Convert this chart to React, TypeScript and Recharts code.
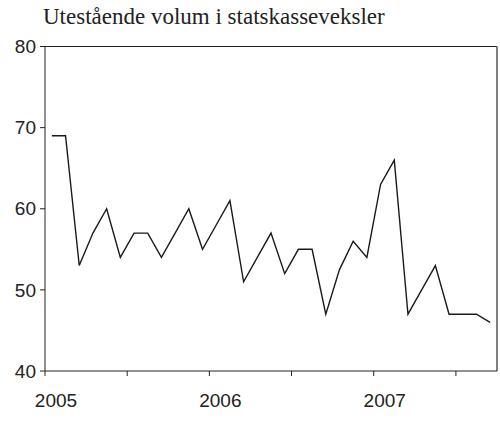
import { LineChart, Line, XAxis, YAxis, ReferenceLine } from "recharts";

// monthly observations, Jan 2005 – Sep 2007 (bn NOK)
const months = [
  "2005-01", "2005-02", "2005-03", "2005-04", "2005-05", "2005-06",
  "2005-07", "2005-08", "2005-09", "2005-10", "2005-11", "2005-12",
  "2006-01", "2006-02", "2006-03", "2006-04", "2006-05", "2006-06",
  "2006-07", "2006-08", "2006-09", "2006-10", "2006-11", "2006-12",
  "2007-01", "2007-02", "2007-03", "2007-04", "2007-05", "2007-06",
  "2007-07", "2007-08", "2007-09",
];
const volume = [
  69, 69, 53, 57, 60, 54, 57, 57, 54, 57, 60, 55,
  58, 61, 51, 54, 57, 52, 55, 55, 47, 52.5, 56, 54,
  63, 66, 47, 50, 53, 47, 47, 47, 46,
];
const yTicks = [40, 50, 60, 70, 80];
const xTicks = [0, 6, 12, 18, 24, 30];
const yearLabels: Record<number, string> = { 0: "2005", 12: "2006", 24: "2007" };

const data = months.map((m, i) => ({ month: m, t: i + 0.5, v: volume[i] }));

const sans = "'Liberation Sans', Arial, sans-serif";

function YearTick(props: any) {
  const { x, y, payload } = props;
  const label = yearLabels[payload.value];
  if (!label) return null;
  return (
    <text x={x + 11} y={y + 29} textAnchor="middle" fontSize={19} fontFamily={sans} fill="#222">
      {label}
    </text>
  );
}

export default function App() {
  return (
    <div style={{ position: "absolute", left: 0, top: 0, width: 500, height: 433, background: "#fff" }}>
      <div
        style={{
          position: "absolute",
          left: 43,
          top: 5,
          fontFamily: "'Liberation Serif', 'Times New Roman', serif",
          fontSize: 23,
          lineHeight: "23px",
          color: "#222",
          whiteSpace: "nowrap",
        }}
      >
        Utestående volum i statskasseveksler
      </div>
      <LineChart width={500} height={433} data={data} margin={{ top: 46.5, right: 3, bottom: 0, left: 0 }}>
        <XAxis
          dataKey="t"
          type="number"
          domain={[0, 33]}
          ticks={xTicks}
          tick={<YearTick />}
          tickSize={5}
          height={62}
          stroke="#222"
          allowDataOverflow
        />
        <YAxis
          domain={[40, 80]}
          ticks={yTicks}
          width={45}
          tickSize={5}
          tickMargin={4}
          stroke="#222"
          tick={{ fontSize: 19, fontFamily: sans, fill: "#222" }}
          allowDataOverflow
        />
        <ReferenceLine y={80} stroke="#222" strokeWidth={1} />
        <ReferenceLine x={33} stroke="#555" strokeWidth={1.5} />
        <Line
          dataKey="v"
          type="linear"
          stroke="#1a1a1a"
          strokeWidth={1.4}
          dot={false}
          isAnimationActive={false}
        />
      </LineChart>
    </div>
  );
}
